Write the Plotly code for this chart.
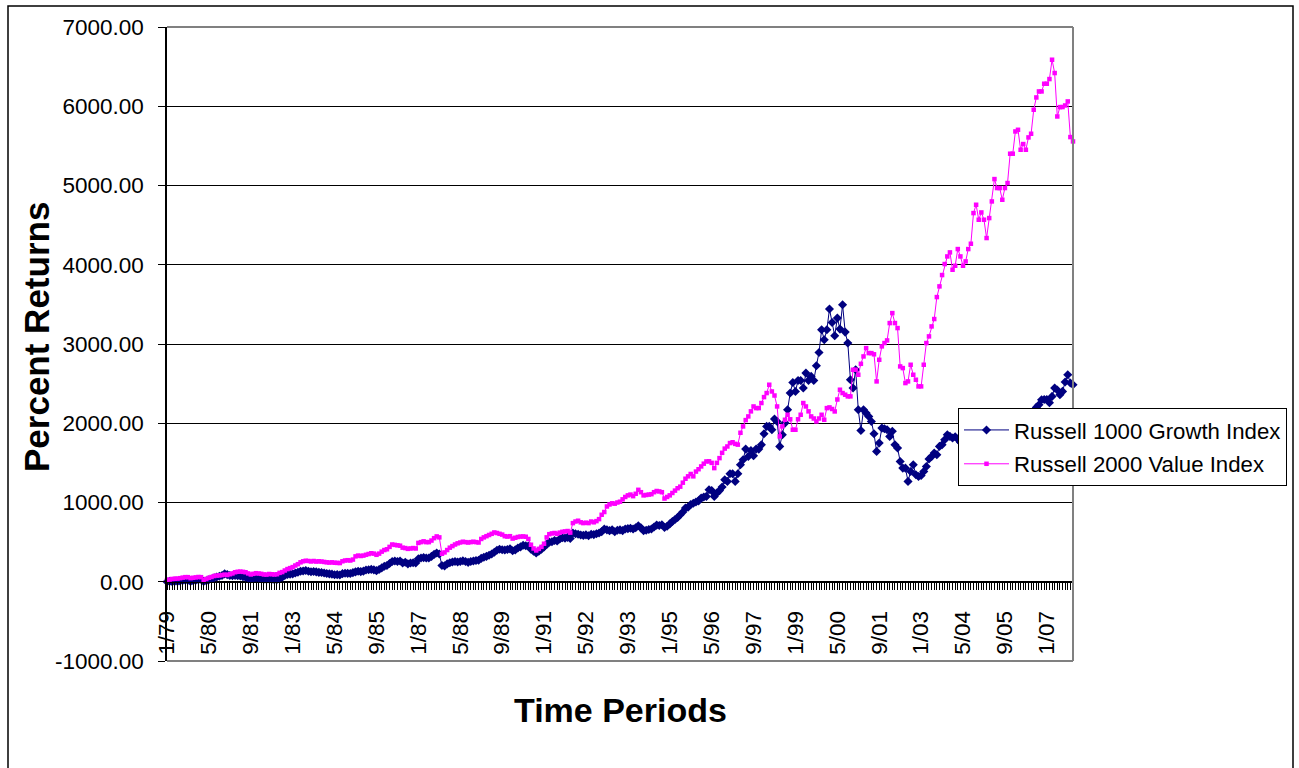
import plotly.graph_objects as go

# ---------------- data (cumulative percent returns, monthly 1/79 .. 11/07) -------------
growth_1979 = [0, 5, 0, 8, 5, 10, 15, 20, 18, 5, 12, 18]
growth_1980 = [25, 28, 5, 12, 25, 35, 50, 60, 70, 78, 100, 90]
growth_1981 = [78, 75, 80, 75, 72, 65, 58, 45, 35, 45, 52, 45]
growth_1982 = [40, 32, 30, 36, 30, 25, 28, 45, 58, 80, 92, 95]
growth_1983 = [100, 110, 120, 132, 136, 142, 132, 126, 130, 124, 118, 116]
growth_1984 = [110, 104, 100, 96, 88, 90, 86, 102, 108, 106, 104, 115]
growth_1985 = [125, 132, 128, 134, 148, 152, 156, 150, 140, 155, 175, 195]
growth_1986 = [205, 230, 256, 262, 255, 262, 236, 246, 226, 236, 240, 238]
growth_1987 = [290, 300, 305, 300, 300, 320, 345, 362, 350, 205, 200, 225]
growth_1988 = [240, 250, 256, 250, 255, 265, 256, 245, 256, 262, 268, 272]
growth_1989 = [295, 310, 320, 335, 350, 372, 398, 410, 404, 400, 406, 415]
growth_1990 = [392, 402, 425, 440, 460, 455, 450, 410, 385, 362, 385, 410]
growth_1991 = [440, 470, 500, 505, 520, 515, 540, 555, 550, 560, 545, 614]
growth_1992 = [606, 600, 590, 585, 592, 580, 600, 595, 606, 615, 632, 665]
growth_1993 = [655, 645, 655, 630, 650, 655, 645, 665, 670, 675, 665, 682]
growth_1994 = [706, 680, 645, 650, 660, 665, 690, 715, 710, 720, 685, 700]
growth_1995 = [730, 760, 785, 810, 845, 880, 930, 940, 975, 990, 1006, 1020]
growth_1996 = [1056, 1070, 1077, 1161, 1150, 1077, 1119, 1150, 1195, 1287, 1266, 1363]
growth_1997 = [1363, 1266, 1363, 1476, 1539, 1674, 1581, 1657, 1590, 1674, 1674, 1728]
growth_1998 = [1867, 1960, 1960, 1918, 2053, 2023, 1708, 1855, 2002, 2170, 2381, 2515]
growth_1999 = [2401, 2540, 2540, 2444, 2633, 2540, 2591, 2540, 2726, 2893, 3180, 3054]
growth_2000 = [3180, 3441, 3272, 3104, 3327, 3188, 3495, 3150, 3012, 2549, 2444, 2675]
growth_2001 = [2170, 1909, 2170, 2128, 2086, 2023, 1867, 1645, 1750, 1939, 1930, 1918]
growth_2002 = [1834, 1900, 1728, 1687, 1518, 1434, 1434, 1266, 1392, 1476, 1350, 1329]
growth_2003 = [1340, 1392, 1455, 1548, 1581, 1624, 1603, 1708, 1728, 1792, 1855, 1834]
growth_2004 = [1813, 1830, 1800, 1760, 1790, 1830, 1740, 1720, 1750, 1790, 1860, 1900]
growth_2005 = [1850, 1880, 1840, 1790, 1850, 1850, 1930, 1900, 1920, 1890, 1980, 1990]
growth_2006 = [2030, 2020, 2040, 1990, 1920, 1920, 1960, 2120, 2200, 2233, 2296, 2300]
growth_2007 = [2300, 2260, 2339, 2444, 2420, 2360, 2402, 2520, 2612, 2507, 2486]

value_1979 = [20, 28, 35, 38, 40, 45, 52, 58, 58, 45, 50, 55]
value_1980 = [60, 58, 25, 35, 50, 60, 72, 78, 80, 84, 90, 85]
value_1981 = [95, 105, 120, 126, 128, 125, 120, 105, 92, 100, 108, 104]
value_1982 = [100, 92, 90, 98, 95, 92, 95, 112, 122, 142, 160, 172]
value_1983 = [185, 205, 222, 245, 258, 265, 262, 256, 262, 255, 258, 255]
value_1984 = [250, 245, 242, 245, 240, 238, 236, 258, 268, 272, 268, 280]
value_1985 = [320, 330, 325, 330, 340, 350, 360, 355, 340, 355, 380, 400]
value_1986 = [410, 440, 470, 465, 460, 455, 430, 425, 415, 420, 425, 420]
value_1987 = [490, 500, 510, 500, 500, 520, 550, 572, 560, 353, 370, 400]
value_1988 = [430, 450, 470, 485, 495, 505, 500, 495, 500, 505, 500, 495]
value_1989 = [540, 560, 575, 590, 605, 622, 615, 605, 595, 575, 570, 575]
value_1990 = [545, 555, 565, 570, 572, 568, 540, 467, 420, 395, 415, 440]
value_1991 = [480, 560, 600, 610, 615, 605, 620, 630, 635, 640, 620, 740]
value_1992 = [760, 770, 750, 740, 745, 740, 760, 750, 765, 790, 845, 880]
value_1993 = [950, 975, 990, 985, 1000, 1010, 1040, 1070, 1090, 1100, 1080, 1110]
value_1994 = [1160, 1130, 1090, 1095, 1100, 1105, 1130, 1145, 1140, 1130, 1050, 1070]
value_1995 = [1090, 1120, 1150, 1180, 1200, 1250, 1300, 1330, 1360, 1330, 1390, 1420]
value_1996 = [1455, 1490, 1518, 1520, 1500, 1434, 1500, 1560, 1627, 1680, 1707, 1750]
value_1997 = [1760, 1740, 1730, 1880, 1960, 2040, 2086, 2150, 2212, 2191, 2191, 2255]
value_1998 = [2330, 2381, 2486, 2401, 2350, 2212, 1834, 1960, 2044, 2107, 2050, 1918]
value_1999 = [1918, 2050, 2107, 2255, 2212, 2150, 2086, 2060, 2023, 2060, 2107, 2044]
value_2000 = [2191, 2200, 2180, 2149, 2300, 2423, 2381, 2360, 2339, 2339, 2675, 2675]
value_2001 = [2612, 2750, 2843, 2948, 2885, 2885, 2870, 2528, 2801, 2970, 3012, 3045]
value_2002 = [3264, 3390, 3264, 3201, 2717, 2696, 2507, 2528, 2738, 2612, 2549, 2465]
value_2003 = [2465, 2738, 3012, 3096, 3222, 3315, 3592, 3727, 3870, 4009, 4105, 4156]
value_2004 = [3937, 3987, 4198, 4105, 3987, 4042, 4198, 4265, 4652, 4757, 4568, 4660]
value_2005 = [4568, 4337, 4589, 4799, 5081, 4968, 4968, 4820, 4968, 5031, 5401, 5401]
value_2006 = [5682, 5703, 5451, 5523, 5451, 5607, 5653, 5956, 6111, 6187, 6187, 6284]
value_2007 = [6284, 6343, 6587, 6419, 5871, 5989, 5990, 6010, 6061, 5611, 5556]

growth = (growth_1979 + growth_1980 + growth_1981 + growth_1982 + growth_1983 + growth_1984
          + growth_1985 + growth_1986 + growth_1987 + growth_1988 + growth_1989 + growth_1990
          + growth_1991 + growth_1992 + growth_1993 + growth_1994 + growth_1995 + growth_1996
          + growth_1997 + growth_1998 + growth_1999 + growth_2000 + growth_2001 + growth_2002
          + growth_2003 + growth_2004 + growth_2005 + growth_2006 + growth_2007)
value = (value_1979 + value_1980 + value_1981 + value_1982 + value_1983 + value_1984
         + value_1985 + value_1986 + value_1987 + value_1988 + value_1989 + value_1990
         + value_1991 + value_1992 + value_1993 + value_1994 + value_1995 + value_1996
         + value_1997 + value_1998 + value_1999 + value_2000 + value_2001 + value_2002
         + value_2003 + value_2004 + value_2005 + value_2006 + value_2007)

start_year = 1979
n_points = len(growth)
periods = [f"{m % 12 + 1}/{(start_year + m // 12) % 100:02d}" for m in range(n_points)]
month_index = list(range(n_points))
label_every = 16
tick_positions = list(range(0, n_points, label_every))
tick_labels = [periods[i] for i in tick_positions]
y_ticks = list(range(-1000, 7001, 1000))
y_tick_labels = [f"{v:.2f}" for v in y_ticks]

FONT = "Liberation Sans, Arial, sans-serif"

fig = go.Figure()
fig.add_trace(go.Scatter(
    x=month_index, y=growth, mode="lines+markers", name="Russell 1000 Growth Index",
    line=dict(color="#000080", width=1),
    marker=dict(symbol="diamond", size=7, color="#000080"),
    cliponaxis=False, legendgroup="g1"))
fig.add_trace(go.Scatter(
    x=month_index, y=value, mode="lines+markers", name="Russell 2000 Value Index",
    line=dict(color="#FF00FF", width=1),
    marker=dict(symbol="square", size=4.5, color="#FF00FF"),
    cliponaxis=False, legendgroup="g2"))

W, H = 1299, 768
L, R, T, B = 167, 1073, 27, 661  # plot area pixel edges


def px(xp):
    return (xp - L) / (R - L)


def py(yp):
    return (B - yp) / (B - T)


fig.update_layout(
    width=W, height=H,
    margin=dict(l=L, r=W - R, t=T, b=H - B, pad=0),
    paper_bgcolor="white", plot_bgcolor="white",
    font=dict(family=FONT, size=22.5, color="black"),
    showlegend=True,
    legend=dict(x=px(958), y=py(408), xanchor="left", yanchor="top",
                bgcolor="white", bordercolor="black", borderwidth=1,
                font=dict(family=FONT, size=22.2, color="black"),
                tracegroupgap=2, itemwidth=45),
    xaxis=dict(range=[0, n_points - 1], tickmode="array", tickvals=tick_positions,
               ticktext=tick_labels, tickangle=-90, ticks="outside", ticklen=7,
               tickcolor="black", showgrid=False, zeroline=False, showline=True,
               linecolor="black", linewidth=1, anchor="free", position=py(582),
               ticklabelstandoff=12,
               minor=dict(tickmode="linear", tick0=0, dtick=1, ticks="outside",
                          ticklen=7, tickcolor="black", showgrid=False),
               tickfont=dict(family=FONT, size=22.5, color="black")),
    yaxis=dict(range=[-1000, 7000], tickmode="array", tickvals=y_ticks,
               ticktext=y_tick_labels, ticks="outside", ticklen=7, tickcolor="black",
               showgrid=True, gridcolor="black", gridwidth=1, zeroline=False,
               showline=True, linecolor="black", linewidth=1.5,
               ticklabelstandoff=10,
               tickfont=dict(family=FONT, size=22.5, color="black")),
)

# plot-area border (top, right, bottom) in grey
for x0, y0, x1, y1 in [(0, 1, 1, 1), (1, 0, 1, 1), (0, 0, 1, 0)]:
    fig.add_shape(type="line", xref="paper", yref="paper", x0=x0, y0=y0, x1=x1, y1=y1,
                  line=dict(color="#808080", width=2), layer="above")

# outer chart border (bottom edge lies just below the visible page)
fig.add_shape(type="rect", xref="paper", yref="paper",
              x0=px(8), y0=py(770), x1=px(1293), y1=py(6),
              line=dict(color="black", width=1.5), layer="below")

fig.add_annotation(text="<b>Percent Returns</b>", xref="paper", yref="paper",
                   x=px(36), y=py(337), xanchor="center", yanchor="middle",
                   textangle=-90, showarrow=False,
                   font=dict(family=FONT, size=35, color="black"))
fig.add_annotation(text="<b>Time Periods</b>", xref="paper", yref="paper",
                   x=px(620), y=py(710), xanchor="center", yanchor="middle",
                   showarrow=False,
                   font=dict(family=FONT, size=34, color="black"))

fig.write_html("out.html", config={"displayModeBar": False},
               post_script="document.body.style.margin='0px';"
                           "document.body.style.overflow='hidden';"
                           "document.documentElement.style.overflow='hidden';")
